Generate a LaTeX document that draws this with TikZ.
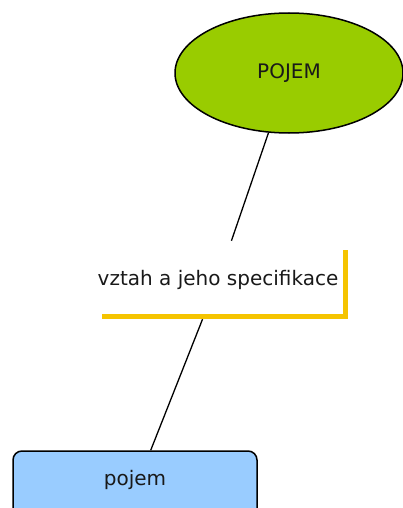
\documentclass[tikz,border=0pt]{standalone}
\usepackage{fontspec}
\setmainfont{DejaVu Sans}
\usetikzlibrary{shapes.geometric}
\definecolor{lime}{HTML}{99CC00}
\definecolor{skyb}{HTML}{99CCFF}
\definecolor{gold}{HTML}{F5C400}
\tikzset{
  lbl/.style={font=\fontsize{20}{24}\selectfont, text=black!90},
  oval/.style={lbl, ellipse, draw=black, line width=1.5pt, fill=lime, minimum width=228pt, minimum height=120pt, inner sep=0pt},
  relbox/.style={lbl, minimum width=250pt, minimum height=78pt, inner sep=0pt},
  conbox/.style={lbl, draw=black, line width=1.5pt, fill=skyb, rounded corners=9pt, minimum width=244pt, minimum height=78pt, inner sep=0pt},
  conn/.style={draw=black, line width=1.3pt},
  bracket/.style={draw=gold, line width=5pt, line join=miter}
}
\begin{document}
\begin{tikzpicture}[x=1pt,y=-1pt]
\useasboundingbox (0,0) rectangle (403,508);
\node[oval] (e) at (289,73) {POJEM};
\node[relbox] (r) at (218,280) {vztah a jeho specifikace};
\node[conbox] (b) at (135,490) {\raisebox{10pt}[\height][\depth]{pojem}};
\coordinate (bk1) at (345,250);
\coordinate (bk2) at (345,316);
\coordinate (bk3) at (102,316);
\draw[bracket] (bk1) -- (bk2) -- (bk3);
\draw[conn] (e) -- (r);
\draw[conn] (r) -- (b);
\end{tikzpicture}
\end{document}
